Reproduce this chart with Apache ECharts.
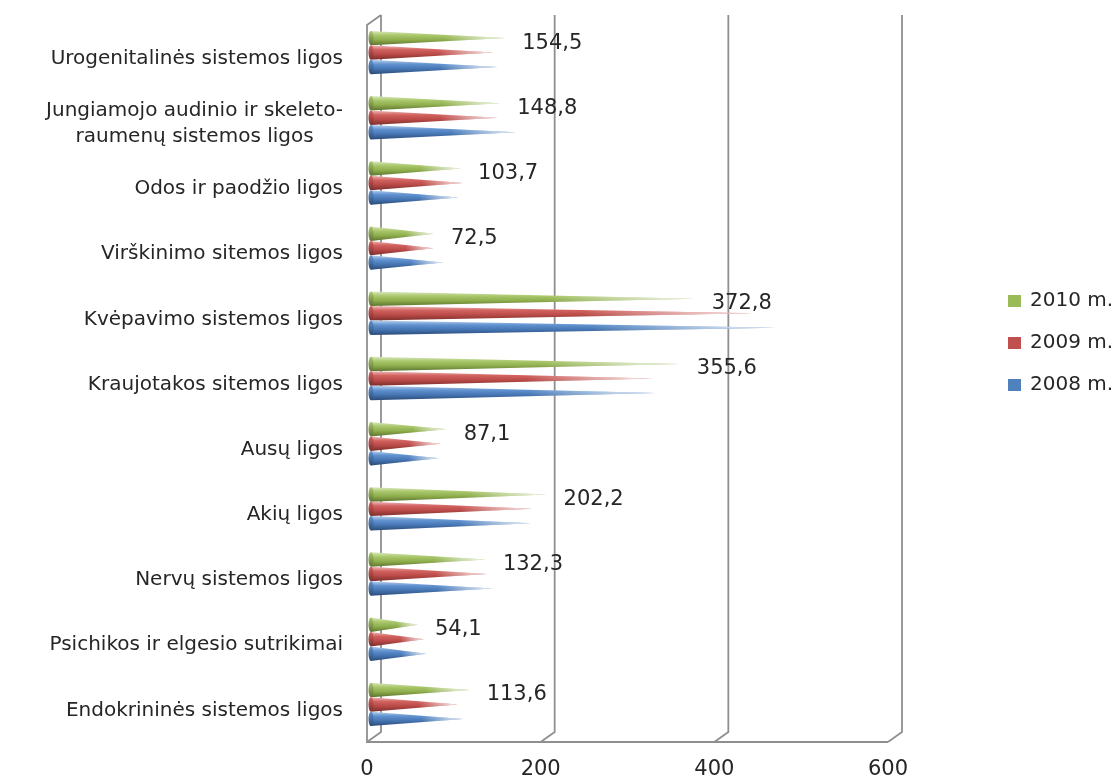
<!DOCTYPE html>
<html>
<head>
<meta charset="utf-8">
<script src="https://cdn.jsdelivr.net/npm/echarts@6/dist/echarts.min.js"></script>
<style>
  html, body { margin: 0; padding: 0; background: #ffffff; }
  #chart { width: 1117px; height: 780px; }
</style>
</head>
<body>
<div id="chart"></div>
<script>
// Categories listed bottom to top, as the category axis draws them
const categories = [
  'Endokrininės sistemos ligos',
  'Psichikos ir elgesio sutrikimai',
  'Nervų sistemos ligos',
  'Akių ligos',
  'Ausų ligos',
  'Kraujotakos sitemos ligos',
  'Kvėpavimo sistemos ligos',
  'Virškinimo sitemos ligos',
  'Odos ir paodžio ligos',
  'Jungiamojo audinio ir skeleto-\nraumenų sistemos ligos',
  'Urogenitalinės sistemos ligos'
];
const values2008 = [106, 64, 140, 184, 78, 328, 466, 83, 101, 167, 146];
const values2009 = [100, 61, 134, 186, 80, 325, 440, 72, 106, 146, 141];
const values2010 = [113.6, 54.1, 132.3, 202.2, 87.1, 355.6, 372.8, 72.5, 103.7, 148.8, 154.5];
const seriesNames = ['2010 m.', '2009 m.', '2008 m.'];
const xTicks = [0, 200, 400, 600];

const FONT = '"DejaVu Sans", Verdana, sans-serif';
const TEXT = '#262626';
const FRAME = '#8f8f8f';
const DX = 14, DY = 10;   // depth offset of the back wall
const CAT_SIZE = 20;

const palettes = {
  green: { base: '#9bbb59', stops: ['#dbe8c0', '#aac86c', '#8fae4d', '#5d742f'] },
  red:   { base: '#c0504d', stops: ['#edbcbb', '#d2625f', '#b94a47', '#7b2e2c'] },
  blue:  { base: '#4f81bd', stops: ['#bcd1ec', '#6193d0', '#4676b3', '#2b4b78'] }
};

function fmt(v) { return String(v.toFixed(1)).replace('.', ','); }

function coneRenderer(slot, pal, withLabel) {
  return function (params, api) {
    const val = api.value(0);
    const cat = api.value(1);
    const base = api.coord([0, cat]);
    const tip = api.coord([val, cat]);
    const band = api.size([0, 1])[1];
    const cy = base[1] + slot * band * 0.222;
    const h = band * 0.222;
    const x0 = base[0] + 4;
    const x1 = tip[0] + 4;
    const shape = { points: [[x0, cy - h / 2], [x1, cy], [x0, cy + h / 2]] };
    const fill = new echarts.graphic.LinearGradient(0, 0, 0, 1, [
      { offset: 0, color: pal.stops[0] },
      { offset: 0.3, color: pal.stops[1] },
      { offset: 0.62, color: pal.stops[2] },
      { offset: 1, color: pal.stops[3] }
    ]);
    const fade = new echarts.graphic.LinearGradient(0, 0, 1, 0, [
      { offset: 0, color: 'rgba(255,255,255,0)' },
      { offset: 0.55, color: 'rgba(255,255,255,0)' },
      { offset: 1, color: 'rgba(255,255,255,0.9)' }
    ]);
    const children = [
      { type: 'polygon', shape: shape, style: { fill: fill } },
      { type: 'polygon', shape: shape, style: { fill: fade } },
      { type: 'ellipse', shape: { cx: x0, cy: cy, rx: 2.5, ry: h / 2 },
        style: { fill: new echarts.graphic.LinearGradient(0, 0, 0, 1, [
          { offset: 0, color: pal.stops[1] },
          { offset: 1, color: pal.stops[3] }
        ]) } }
    ];
    if (withLabel) {
      children.push({
        type: 'text',
        style: {
          text: fmt(val), x: tip[0] + 21, y: cy + 5,
          align: 'left', verticalAlign: 'middle',
          font: '21px ' + FONT, fill: TEXT
        }
      });
    }
    return { type: 'group', children: children };
  };
}

// 3D-style frame: back-wall gridlines, left wall and floor edge
function frameRenderer(params, api) {
  const x = api.coord([api.value(0), 0])[0];
  const cs = params.coordSys;
  const floorY = cs.y + cs.height + 5;
  const backTop = cs.y - 5;
  const style = { stroke: FRAME, lineWidth: 1.8, fill: null };
  const children = [{
    type: 'polyline',
    shape: { points: [[x + DX, backTop], [x + DX, floorY - DY], [x, floorY]] },
    style: style
  }];
  if (api.value(0) === 0) {
    children.push({
      type: 'polyline',
      shape: { points: [[x + DX, backTop], [x, backTop + DY], [x, floorY], [cs.x + cs.width, floorY]] },
      style: style
    });
  }
  return { type: 'group', children: children };
}

function toData(arr) { return arr.map((v, i) => [v, i]); }

// Second line of the two-line category label is centred under the first
const measureCtx = document.createElement('canvas').getContext('2d');
measureCtx.font = CAT_SIZE + 'px "DejaVu Sans"';

const chart = echarts.init(document.getElementById('chart'), null, { renderer: 'canvas' });

const richLabels = { c: { fontSize: CAT_SIZE, fontFamily: FONT, color: TEXT, lineHeight: 26 } };
function catFormatter(value) {
  if (value.indexOf('\n') < 0) return value;
  const lines = value.split('\n');
  const w = measureCtx.measureText(lines[0]).width;
  richLabels.w = { fontSize: CAT_SIZE, fontFamily: FONT, color: TEXT, lineHeight: 26, width: w, align: 'center' };
  return '{c|' + lines[0] + '}\n{w|' + lines[1] + '}';
}
catFormatter(categories[9]);

chart.setOption({
  animation: false,
  backgroundColor: '#ffffff',
  grid: { left: 367, right: 229, top: 20, bottom: 43, containLabel: false },
  legend: {
    orient: 'vertical',
    left: 1003,
    top: 285,
    itemWidth: 13,
    itemHeight: 12,
    itemGap: 20,
    icon: 'rect',
    data: seriesNames,
    textStyle: { fontSize: 20, fontFamily: FONT, color: TEXT, lineHeight: 22, padding: [0, 0, 0, 4] }
  },
  xAxis: {
    type: 'value',
    min: xTicks[0],
    max: xTicks[xTicks.length - 1],
    interval: 200,
    axisLine: { show: false },
    axisTick: { show: false },
    splitLine: { show: false },
    axisLabel: { margin: 22, fontSize: 21, fontFamily: FONT, color: TEXT }
  },
  yAxis: {
    type: 'category',
    data: categories,
    axisLine: { show: false },
    axisTick: { show: false },
    splitLine: { show: false },
    axisLabel: {
      margin: 24,
      fontSize: CAT_SIZE,
      fontFamily: FONT,
      color: TEXT,
      padding: [12, 0, 0, 0],
      formatter: catFormatter,
      rich: richLabels
    }
  },
  series: [
    {
      name: 'frame', type: 'custom', z: 1, silent: true, clip: false,
      renderItem: frameRenderer,
      data: xTicks.map(t => [t, 0]),
      encode: { x: 0, y: 1 }
    },
    {
      name: seriesNames[0], type: 'custom', z: 3, clip: false,
      itemStyle: { color: palettes.green.base },
      renderItem: coneRenderer(-1, palettes.green, true),
      data: toData(values2010), encode: { x: 0, y: 1 }
    },
    {
      name: seriesNames[1], type: 'custom', z: 3, clip: false,
      itemStyle: { color: palettes.red.base },
      renderItem: coneRenderer(0, palettes.red, false),
      data: toData(values2009), encode: { x: 0, y: 1 }
    },
    {
      name: seriesNames[2], type: 'custom', z: 3, clip: false,
      itemStyle: { color: palettes.blue.base },
      renderItem: coneRenderer(1, palettes.blue, false),
      data: toData(values2008), encode: { x: 0, y: 1 }
    }
  ]
});
</script>
</body>
</html>
